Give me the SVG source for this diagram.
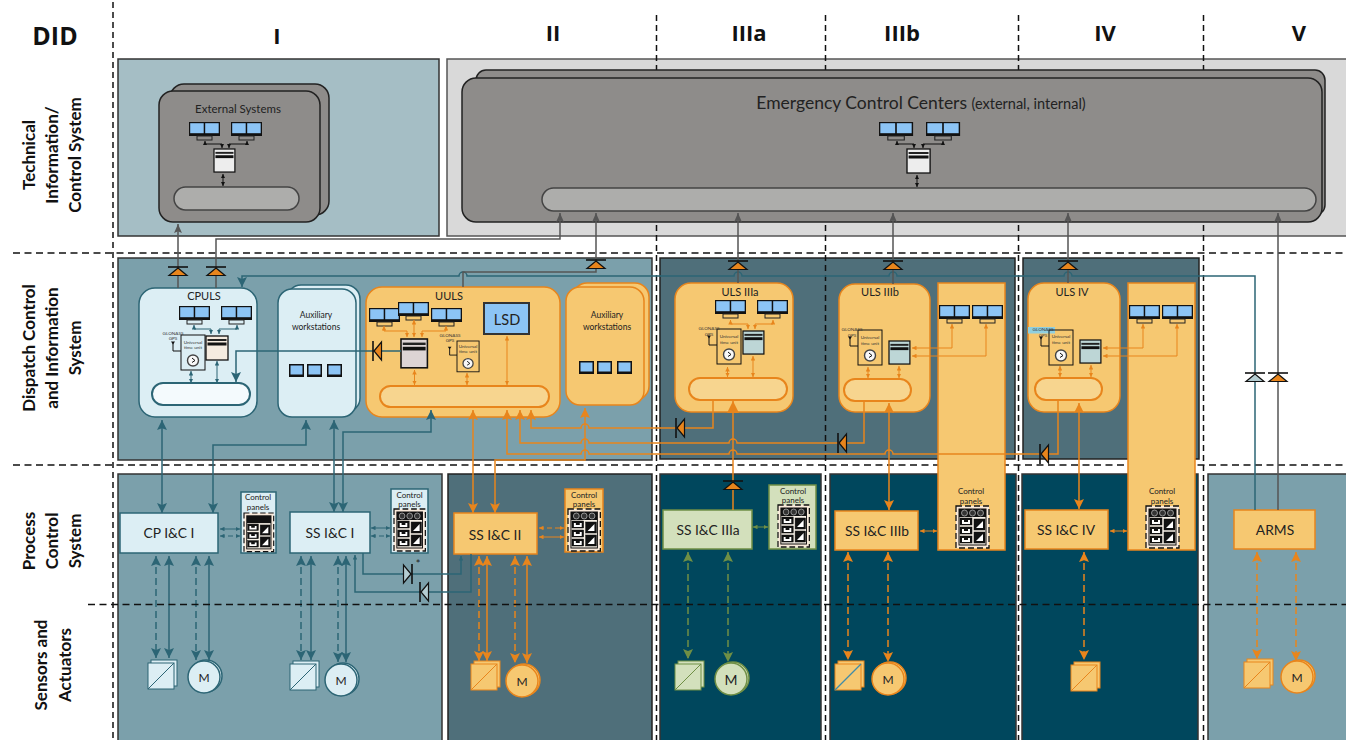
<svg xmlns="http://www.w3.org/2000/svg" xmlns:xlink="http://www.w3.org/1999/xlink" width="1346" height="740" viewBox="0 0 1346 740">
<style>
text{font-family:"Lato","Open Sans","Liberation Sans",sans-serif;fill:#222;text-anchor:middle}
.hd{font-family:"Open Sans","Liberation Sans",sans-serif;font-weight:700;font-size:22px;fill:#111}
.row{font-family:"Lato","Open Sans",sans-serif;font-weight:700;font-size:17px;fill:#111}
.ttl{font-size:11px}
.nm{font-size:13.8px}
.aux{font-size:8.5px}
.cp{font-size:8px}
.tiny{font-size:4.6px;fill:#333}
.dash{fill:none;stroke:#111;stroke-width:1.5;stroke-dasharray:7 4.5}
.vdash{fill:none;stroke:#111;stroke-width:1.5;stroke-dasharray:6 4}
.pl{fill:#7BA0AB;stroke:#333;stroke-width:1.5}
.pd{fill:#4F6F7A;stroke:#222;stroke-width:1.5}
.px{fill:#00475D;stroke:#333;stroke-width:1.5}
.ow{fill:#F6C871;stroke:#E8851C;stroke-width:1.5}
.bw{fill:#DCEEF4;stroke:#2C6575;stroke-width:1.5}
.gw{fill:#D3E0BC;stroke:#6F8F45;stroke-width:1.5}
.kw{fill:#8E8C8A;stroke:#222;stroke-width:1.5}
.ob{fill:#F7D58F;stroke:#E8851C;stroke-width:2}
.bb{fill:#F4FAFD;stroke:#2C6575;stroke-width:2}
.kb{fill:#ADADAB;stroke:#444;stroke-width:1.5}
path.c{fill:none;stroke-width:1.5}
.t{stroke:#2C6575}.o{stroke:#E8851C}.k{stroke:#555}.g{stroke:#6F8F45}.b{stroke:#111}
.d{stroke-dasharray:7 4}
path.s{fill:none;stroke-width:1}
</style>
<defs>
<marker id="at" markerUnits="userSpaceOnUse" markerWidth="10" markerHeight="10" refX="8" refY="4" viewBox="0 0 8 8" orient="auto-start-reverse"><path d="M8,4L0,0L1.5,4L0,8Z" fill="#2C6575"/></marker>
<marker id="ao" markerUnits="userSpaceOnUse" markerWidth="10" markerHeight="10" refX="8" refY="4" viewBox="0 0 8 8" orient="auto-start-reverse"><path d="M8,4L0,0L1.5,4L0,8Z" fill="#E8851C"/></marker>
<marker id="aO" markerUnits="userSpaceOnUse" markerWidth="12" markerHeight="12" refX="10" refY="5" viewBox="0 0 10 10" orient="auto-start-reverse"><path d="M10,5L0,0L0,10Z" fill="#E8851C"/></marker>
<marker id="ak" markerUnits="userSpaceOnUse" markerWidth="9" markerHeight="9" refX="8" refY="4" viewBox="0 0 8 8" orient="auto-start-reverse"><path d="M8,4L0,0.5L1.5,4L0,7.5Z" fill="#555"/></marker>
<marker id="ag" markerUnits="userSpaceOnUse" markerWidth="10" markerHeight="10" refX="8" refY="4" viewBox="0 0 8 8" orient="auto-start-reverse"><path d="M8,4L0,0L1.5,4L0,8Z" fill="#6F8F45"/></marker>
<marker id="st" markerUnits="userSpaceOnUse" markerWidth="4.5" markerHeight="4.5" refX="4" refY="2" viewBox="0 0 4 4" orient="auto-start-reverse"><path d="M4,2L0,0V4Z" fill="#2C6575"/></marker>
<marker id="so" markerUnits="userSpaceOnUse" markerWidth="4.5" markerHeight="4.5" refX="4" refY="2" viewBox="0 0 4 4" orient="auto-start-reverse"><path d="M4,2L0,0V4Z" fill="#E8851C"/></marker>
<marker id="sg" markerUnits="userSpaceOnUse" markerWidth="4.5" markerHeight="4.5" refX="4" refY="2" viewBox="0 0 4 4" orient="auto-start-reverse"><path d="M4,2L0,0V4Z" fill="#6F8F45"/></marker>
<marker id="sb" markerUnits="userSpaceOnUse" markerWidth="4" markerHeight="4" refX="4" refY="2" viewBox="0 0 4 4" orient="auto-start-reverse"><path d="M4,2L0,0V4Z" fill="#111"/></marker>
<g id="dual"><rect width="31" height="14" fill="#111"/><rect x="1.2" y="1.2" width="13.5" height="10" fill="#8CC4F5"/><rect x="16.2" y="1.2" width="13.5" height="10" fill="#8CC4F5"/><rect x="8" y="14" width="15" height="4" fill="none" stroke="#222" stroke-width="1"/></g>
<g id="mon"><rect width="15" height="13" fill="#111"/><rect x="1.5" y="1.5" width="12" height="9" fill="#8CC4F5"/></g>
<g id="srv"><rect width="22" height="24" stroke="#111" stroke-width="1.3"/><rect x="1.5" y="3" width="19" height="2" fill="#222"/><rect x="1.5" y="6.5" width="19" height="3" fill="#111"/></g>
<g id="tu"><rect width="24" height="35" fill="none" stroke="#111" stroke-width="1"/><circle cx="12" cy="25.5" r="5.5" fill="#F8F8F8" stroke="#444" stroke-width="1.4"/><path d="M11,23L14,25.5L11,27.5" fill="none" stroke="#111" stroke-width="1"/><path d="M0,16H-8V8" fill="none" stroke="#111" stroke-width="1"/><path d="M-10,6.5H-6L-8,9.5Z" fill="#111"/></g>
<g id="ctl"><rect width="33" height="42" fill="#F8E9DA" stroke="#111" stroke-width="1.3" stroke-dasharray="6 3"/><rect x="2.5" y="2.5" width="28" height="37" fill="#111"/><rect x="3.5" y="11" width="26" height="27.5" fill="#F8F2E8"/><g fill="#111" stroke="#111" stroke-width="0.5"><rect x="4" y="12" width="12" height="7"/><rect x="4" y="21" width="12" height="7"/><rect x="4" y="30" width="12" height="7"/><rect x="18" y="13" width="11" height="11"/><rect x="18" y="26" width="11" height="11"/></g><g fill="#FFF"><path d="M6,14H8V16H12V14H14V18H6Z"/><path d="M6,23H8V25H12V23H14V27H6Z"/><path d="M6,32H8V34H12V32H14V36H6Z"/><path d="M27,15V22H20Z"/><path d="M27,28V35H20Z"/></g></g>
<g id="knobs"><circle cx="8.5" cy="7" r="3" fill="#333" stroke="#DDD" stroke-width="0.6"/><circle cx="16.5" cy="7" r="3" fill="#333" stroke="#DDD" stroke-width="0.6"/><circle cx="24.5" cy="7" r="3" fill="#333" stroke="#DDD" stroke-width="0.6"/></g>
<g id="diode"><path d="M-10,-4H10" fill="none" stroke="#111" stroke-width="1.6"/><path d="M0,-3L9,4.5H-9Z" stroke="#111" stroke-width="1.2"/></g>
<g id="conv"><rect x="3" y="-3" width="26" height="26"/><rect width="26" height="26"/><path d="M0,26L26,0" fill="none"/></g>
</defs>

<g id="panels">
<rect class="pl" x="118" y="59" width="321" height="177" style="fill:#A5BEC5"/>
<rect x="447" y="59" width="900" height="177" style="fill:#D9D9D9;stroke:#555;stroke-width:1.5"/>
<rect class="pl" x="118" y="258" width="534" height="202"/>
<rect class="pd" x="660" y="258" width="355" height="201"/>
<rect class="pd" x="1023" y="258" width="176" height="201"/>
<rect class="pl" x="118" y="474" width="324" height="267"/>
<rect class="pd" x="448" y="474" width="204" height="267"/>
<rect class="px" x="660" y="474" width="161" height="267"/>
<rect class="px" x="830" y="474" width="186" height="267"/>
<rect class="px" x="1022" y="474" width="176" height="267"/>
<rect class="pl" x="1208" y="474" width="140" height="267"/>
</g>

<g id="grid">
<path class="vdash" d="M113,2V740"/>
<path class="vdash" d="M656.500,15V740M825.500,15V740M1018.500,15V740M1203.500,15V740"/>
<path class="dash" d="M13,253H1346M13,465H1346"/>
</g>

<g id="headers">
<text class="hd" x="55" y="45" style="font-size:25px">DID</text>
<text class="hd" x="277" y="44">I</text>
<text class="hd" x="553" y="41">II</text>
<text class="hd" x="749" y="41">IIIa</text>
<text class="hd" x="902" y="41">IIIb</text>
<text class="hd" x="1105" y="41">IV</text>
<text class="hd" x="1299" y="41">V</text>
<text class="row" transform="translate(35,155) rotate(-90)">Technical</text>
<text class="row" transform="translate(58,155) rotate(-90)">Information/</text>
<text class="row" transform="translate(81,155) rotate(-90)">Control System</text>
<text class="row" transform="translate(35,348) rotate(-90)">Dispatch Control</text>
<text class="row" transform="translate(58,348) rotate(-90)">and Information</text>
<text class="row" transform="translate(81,348) rotate(-90)">System</text>
<text class="row" transform="translate(35,541) rotate(-90)">Process</text>
<text class="row" transform="translate(58,541) rotate(-90)">Control</text>
<text class="row" transform="translate(81,541) rotate(-90)">System</text>
<text class="row" transform="translate(47,665) rotate(-90)">Sensors and</text>
<text class="row" transform="translate(71,665) rotate(-90)">Actuators</text>
</g>

<g id="external-systems">
<rect class="kw" x="170" y="84" width="159" height="131" rx="14"/>
<rect class="kw" x="159" y="91" width="161" height="131" rx="14"/>
<text x="238" y="113" style="font-size:11.5px">External Systems</text>
<use href="#dual" x="189" y="122"/><use href="#dual" x="231" y="122"/>
<use href="#srv" transform="translate(214,149) scale(.95,.96)" fill="#EDEDED"/>
<rect class="kb" x="174" y="187" width="125" height="23" rx="11.500"/>
</g>

<g id="emergency-control-centers">
<rect class="kw" x="476" y="70" width="849" height="145" rx="10"/>
<rect class="kw" x="462" y="78" width="860" height="144" rx="14"/>
<text x="921" y="109" style="font-size:17.5px">Emergency Control Centers <tspan style="font-size:14.500px">(external, internal)</tspan></text>
<use href="#dual" transform="translate(879,122) scale(1.1,1)"/><use href="#dual" transform="translate(926,122) scale(1.1,1)"/>
<use href="#srv" transform="translate(907,149) scale(1.05,1)" fill="#EDEDED"/>
<rect class="kb" x="542" y="188" width="774" height="23" rx="11.500"/>
</g>

<g id="cpuls">
<rect class="bw" x="139" y="288" width="118" height="129" rx="16"/>
<text class="ttl" x="204" y="300">CPULS</text>
<use href="#dual" x="179" y="306"/><use href="#dual" x="221" y="306"/>
<use href="#tu" x="181" y="335"/>
<text class="tiny" x="173" y="335">GLONASS</text><text class="tiny" x="173" y="340">GPS</text>
<text class="tiny" x="193" y="344">Universal</text><text class="tiny" x="193" y="349">time unit</text>
<use href="#srv" x="206" y="336" fill="#F5EBDF"/>
<rect class="bb" x="152" y="383" width="98" height="22" rx="11"/>
</g>

<g id="aux-i">
<rect class="bw" x="287" y="285" width="73" height="127" rx="14"/>
<rect class="bw" x="278" y="289" width="78" height="128" rx="14"/>
<text class="aux" x="316" y="318">Auxiliary</text><text class="aux" x="316" y="330">workstations</text>
<use href="#mon" x="289" y="364"/><use href="#mon" x="307" y="364"/><use href="#mon" x="327" y="364"/>
</g>

<g id="uuls">
<rect class="ow" x="366" y="287" width="194" height="130" rx="16"/>
<text class="ttl" x="449" y="300">UULS</text>
<use href="#dual" x="369" y="308"/><use href="#dual" x="398" y="302"/><use href="#dual" x="431" y="308"/>
<use href="#srv" transform="translate(401,339) scale(1.2,1.2)" fill="#DDD4D4"/>
<use href="#tu" transform="translate(457,341) scale(.92,.88)"/>
<text class="tiny" x="450" y="337">GLONASS</text><text class="tiny" x="450" y="342">GPS</text>
<text class="tiny" x="468" y="348">Universal</text><text class="tiny" x="468" y="353">time unit</text>
<rect x="484" y="303" width="45" height="31" fill="#8CC4F5" stroke="#333" stroke-width="2"/>
<text x="507" y="325" style="font-size:14.500px">LSD</text>
<rect class="ob" x="380" y="386" width="169" height="21" rx="10.500"/>
</g>

<g id="aux-ii">
<rect class="ow" x="573" y="283" width="76" height="117" rx="14"/>
<rect class="ow" x="566" y="287" width="78" height="118" rx="14"/>
<text class="aux" x="607" y="318">Auxiliary</text><text class="aux" x="607" y="330">workstations</text>
<use href="#mon" x="579" y="361"/><use href="#mon" x="597" y="361"/><use href="#mon" x="617" y="361"/>
</g>

<g id="uls-iiia">
<rect class="ow" x="675" y="283" width="118" height="129" rx="16"/>
<text class="ttl" x="740" y="296">ULS IIIa</text>
<use href="#dual" x="715" y="300"/><use href="#dual" x="757" y="300"/>
<use href="#tu" x="717" y="329"/>
<text class="tiny" x="709" y="330">GLONASS</text><text class="tiny" x="709" y="336">GPS</text>
<text class="tiny" x="729" y="338">Universal</text><text class="tiny" x="729" y="344">time unit</text>
<use href="#srv" transform="translate(743,331) scale(.95,.96)" fill="#BDD6D6"/>
<rect class="ob" x="689" y="378" width="98" height="22" rx="11"/>
</g>

<g id="uls-iiib">
<rect class="ow" x="839" y="284" width="91" height="128" rx="16"/>
<text class="ttl" x="880" y="296">ULS IIIb</text>
<use href="#tu" x="858" y="330"/>
<text class="tiny" x="852" y="331">GLONASS</text><text class="tiny" x="852" y="337">GPS</text>
<text class="tiny" x="870" y="339">Universal</text><text class="tiny" x="870" y="345">time unit</text>
<use href="#srv" transform="translate(889,341) scale(.95,.96)" fill="#BDD6D6"/>
<rect class="ob" x="844" y="379" width="67" height="22" rx="11"/>
</g>

<g id="workstations-iiib">
<rect class="ow" x="938" y="283" width="67" height="267"/>
<use href="#dual" x="939" y="305"/><use href="#dual" x="972" y="305"/>
<text class="cp" x="971" y="494">Control</text><text class="cp" x="971" y="504">panels</text>
<use href="#ctl" x="956" y="506"/><use href="#knobs" x="956" y="506"/>
</g>

<g id="uls-iv">
<rect class="ow" x="1028" y="283" width="92" height="129" rx="16"/>
<text class="ttl" x="1072" y="296">ULS IV</text>
<rect x="1028" y="327" width="27" height="6.500" fill="#8FCFE0"/>
<use href="#tu" x="1049" y="330"/>
<text class="tiny" x="1043" y="331">GLONASS</text><text class="tiny" x="1043" y="337">GPS</text>
<text class="tiny" x="1061" y="338">Universal</text><text class="tiny" x="1061" y="344">time unit</text>
<use href="#srv" transform="translate(1080,340) scale(.95,.96)" fill="#BDD6D6"/>
<rect class="ob" x="1035" y="378" width="67" height="22" rx="11"/>
</g>

<g id="workstations-iv">
<rect class="ow" x="1128" y="283" width="67" height="267"/>
<use href="#dual" x="1129" y="305"/><use href="#dual" x="1162" y="305"/>
<text class="cp" x="1162" y="494">Control</text><text class="cp" x="1162" y="504">panels</text>
<use href="#ctl" x="1146" y="506"/><use href="#knobs" x="1146" y="506"/>
</g>

<g id="cp-ic-i"><rect class="bw" x="120" y="513" width="98" height="40"/><text class="nm" x="169" y="538">CP I&amp;C I</text></g>
<g id="panels-cp-i"><rect class="bw" x="241" y="492" width="35" height="61"/><text class="cp" x="258" y="500">Control</text><text class="cp" x="258" y="510">panels</text><use href="#ctl" transform="translate(244,513) scale(.9,.92)"/></g>
<g id="ss-ic-i"><rect class="bw" x="290" y="512" width="80" height="41"/><text class="nm" x="330" y="538">SS I&amp;C I</text></g>
<g id="panels-ss-i"><rect class="bw" x="391" y="489" width="37" height="64"/><text class="cp" x="409.500" y="498">Control</text><text class="cp" x="409.500" y="507">panels</text><use href="#ctl" transform="translate(394,509) scale(.95,1)"/><use href="#knobs" transform="translate(394,509) scale(.95,1)"/></g>
<g id="ss-ic-ii"><rect class="ow" x="454" y="513" width="83" height="41"/><text class="nm" x="495" y="540">SS I&amp;C II</text></g>
<g id="panels-ss-ii"><rect class="ow" x="565" y="489" width="38" height="63"/><text class="cp" x="584" y="498">Control</text><text class="cp" x="584" y="507">panels</text><use href="#ctl" transform="translate(568,509) scale(.98,1)"/><use href="#knobs" transform="translate(568,509) scale(.98,1)"/></g>
<g id="ss-ic-iiia"><rect class="gw" x="663" y="510" width="89" height="39"/><text class="nm" x="708" y="535">SS I&amp;C IIIa</text></g>
<g id="panels-ss-iiia"><rect class="gw" x="769" y="485" width="47" height="64"/><text class="cp" x="793" y="494">Control</text><text class="cp" x="793" y="503">panels</text><use href="#ctl" transform="translate(778,505) scale(.95,1)"/><use href="#knobs" transform="translate(778,505) scale(.95,1)"/></g>
<g id="ss-ic-iiib"><rect class="ow" x="835" y="511" width="83" height="39"/><text class="nm" x="877" y="536">SS I&amp;C IIIb</text></g>
<g id="ss-ic-iv"><rect class="ow" x="1025" y="510" width="83" height="39"/><text class="nm" x="1066" y="535">SS I&amp;C IV</text></g>
<g id="arms"><rect class="ow" x="1234" y="510" width="81" height="39"/><text class="nm" x="1275" y="535">ARMS</text></g>

<g id="sensor-cp-i" fill="#DCEEF4" stroke="#2C6575"><use href="#conv" x="148" y="663"/></g>
<g id="motor-cp-i"><circle class="bw" cx="206" cy="676" r="16"/><circle class="bw" cx="204" cy="677" r="16"/><text x="204" y="682" style="font-size:12px">M</text></g>
<g id="sensor-ss-i" fill="#DCEEF4" stroke="#2C6575"><use href="#conv" x="290" y="664"/></g>
<g id="motor-ss-i"><circle class="bw" cx="343" cy="679" r="16"/><circle class="bw" cx="341" cy="680" r="16"/><text x="341" y="685" style="font-size:12px">M</text></g>
<g id="sensor-ii" fill="#F6C871" stroke="#E8851C"><use href="#conv" x="471" y="664"/></g>
<g id="motor-ii"><circle class="ow" cx="524" cy="680" r="16"/><circle class="ow" cx="522" cy="681" r="16"/><text x="522" y="686" style="font-size:12px">M</text></g>
<g id="sensor-iiia" fill="#D3E0BC" stroke="#6F8F45"><use href="#conv" x="675" y="664"/></g>
<g id="motor-iiia"><circle class="gw" cx="733" cy="678" r="16"/><circle class="gw" cx="731" cy="679" r="16"/><text x="731" y="685" style="font-size:14px">M</text></g>
<g id="sensor-iiib" fill="#F6C871" stroke="#E8851C"><use href="#conv" x="835" y="664"/><path d="M835,690L861,664" stroke="#3F8CA8" stroke-width="1.2"/></g>
<g id="motor-iiib"><circle class="ow" cx="890" cy="678" r="16"/><circle class="ow" cx="888" cy="679" r="16"/><text x="888" y="684" style="font-size:12px">M</text></g>
<g id="sensor-iv" fill="#F6C871" stroke="#E8851C"><use href="#conv" x="1071" y="665"/></g>
<g id="sensor-v" fill="#F6C871" stroke="#E8851C"><use href="#conv" x="1244" y="662"/></g>
<g id="motor-v"><circle class="ow" cx="1299" cy="676" r="16"/><circle class="ow" cx="1297" cy="677" r="16"/><text x="1297" y="682" style="font-size:12px">M</text></g>

<g id="connectors">
<path class="c t" marker-start="url(#at)" d="M242,287V276H459a4,4 0 0 1 8,0H734a4,4 0 0 1 8,0H889a4,4 0 0 1 8,0H1064a4,4 0 0 1 8,0H1255V510"/>
<path class="c k" marker-start="url(#ak)" d="M178,224V288"/>
<path class="c k" marker-start="url(#ak)" d="M560,213V239H216V288"/>
<path class="c k" marker-start="url(#ak)" d="M596,213V272H463V287"/>
<path class="c k" marker-start="url(#ak)" d="M738,213V283"/>
<path class="c k" marker-start="url(#ak)" d="M893,213V284"/>
<path class="c k" marker-start="url(#ak)" d="M1068,213V283"/>
<path class="c k" marker-start="url(#ak)" d="M1278,213V510"/>
<path class="c t" marker-start="url(#at)" marker-end="url(#at)" d="M162,420V513"/>
<path class="c t" marker-start="url(#at)" marker-end="url(#at)" d="M306,420V445H213V513"/>
<path class="c t" marker-start="url(#at)" marker-end="url(#at)" d="M334,420V512"/>
<path class="c t" marker-start="url(#at)" marker-end="url(#at)" d="M431,410V432H343V512"/>
<path class="c t" marker-end="url(#at)" d="M401,351H236V382"/>
<path class="c o" marker-start="url(#ao)" marker-end="url(#ao)" d="M473,410V513"/>
<path class="c o" marker-start="url(#ao)" marker-end="url(#ao)" d="M585,408V460H495V513"/>
<path class="c o" marker-start="url(#ao)" d="M531,410V428H581a4,4 0 0 1 8,0H713V400"/>
<path class="c o" marker-start="url(#ao)" d="M520,410V443H581a4,4 0 0 1 8,0H729a4,4 0 0 1 8,0H864V401"/>
<path class="c o" marker-start="url(#ao)" d="M507,410V454H581a4,4 0 0 1 8,0H729a4,4 0 0 1 8,0H885a4,4 0 0 1 8,0H1058V400"/>
<path class="c o" marker-start="url(#aO)" d="M733,401V510"/>
<path class="c o" marker-start="url(#ao)" marker-end="url(#ao)" d="M889,403V510"/>
<path class="c o" marker-start="url(#ao)" marker-end="url(#ao)" d="M1079,403V509"/>
<path class="c t" d="M363,553V574H461V556" marker-end="url(#st)"/>
<path class="c t" d="M471,554V592H355V555" marker-end="url(#st)"/>
<path class="c t d" marker-start="url(#at)" marker-end="url(#at)" d="M156,556V658"/>
<path class="c t" marker-start="url(#at)" marker-end="url(#at)" d="M169,556V658"/>
<path class="c t d" marker-start="url(#at)" marker-end="url(#at)" d="M196,556V660"/>
<path class="c t" marker-start="url(#at)" marker-end="url(#at)" d="M209,556V660"/>
<path class="c t d" marker-start="url(#at)" marker-end="url(#at)" d="M301,556V660"/>
<path class="c t" marker-start="url(#at)" marker-end="url(#at)" d="M311,556V660"/>
<path class="c t d" marker-start="url(#at)" marker-end="url(#at)" d="M338,556V662"/>
<path class="c t" marker-start="url(#at)" marker-end="url(#at)" d="M346,556V662"/>
<path class="c o d" marker-start="url(#ao)" marker-end="url(#ao)" d="M479,556V661"/>
<path class="c o" marker-start="url(#ao)" marker-end="url(#ao)" d="M487,556V661"/>
<path class="c o d" marker-start="url(#ao)" marker-end="url(#ao)" d="M515,556V663"/>
<path class="c o" marker-start="url(#ao)" marker-end="url(#ao)" d="M527,556V663"/>
<path class="c g d" marker-start="url(#ag)" marker-end="url(#ag)" d="M688,552V659"/>
<path class="c g d" marker-start="url(#ag)" marker-end="url(#ag)" d="M728,552V662"/>
<path class="c o d" marker-start="url(#ao)" marker-end="url(#ao)" d="M848,552V660"/>
<path class="c o d" marker-start="url(#ao)" marker-end="url(#ao)" d="M888,552V662"/>
<path class="c o d" marker-start="url(#ao)" marker-end="url(#ao)" d="M1084,552V660"/>
<path class="c o d" marker-start="url(#ao)" marker-end="url(#ao)" d="M1257,552V659"/>
<path class="c o d" marker-start="url(#ao)" marker-end="url(#ao)" d="M1296,552V661"/>
<g>
<path class="s t" marker-start="url(#st)" marker-end="url(#st)" d="M220,529H240"/>
<path class="s t" stroke-dasharray="5 3" marker-start="url(#st)" marker-end="url(#st)" d="M220,536H240"/>
<path class="s t" marker-start="url(#st)" marker-end="url(#st)" d="M371,528H390"/>
<path class="s t" stroke-dasharray="5 3" marker-start="url(#st)" marker-end="url(#st)" d="M371,536H390"/>
<path class="s o" stroke-dasharray="5 3" marker-start="url(#so)" marker-end="url(#so)" d="M539,528H564"/>
<path class="s o" marker-start="url(#so)" marker-end="url(#so)" d="M539,537H564"/>
<path class="s g" marker-start="url(#sg)" marker-end="url(#sg)" d="M753,527H768"/>
<path class="s o" marker-start="url(#so)" marker-end="url(#so)" d="M920,531H937"/>
<path class="s o" marker-start="url(#so)" marker-end="url(#so)" d="M1110,531H1127"/>
<path class="s t" marker-start="url(#st)" marker-end="url(#st)" d="M194,325V329H211V334"/>
<path class="s t" marker-start="url(#st)" marker-end="url(#st)" d="M237,325V329H219V334"/>
<path class="s t" marker-start="url(#st)" marker-end="url(#st)" d="M191,371V383"/>
<path class="s t" marker-start="url(#st)" marker-end="url(#st)" d="M217,361V383"/>
<path class="s o" marker-start="url(#so)" marker-end="url(#so)" d="M384,326V331H407V337"/>
<path class="s o" marker-start="url(#so)" marker-end="url(#so)" d="M414,320V337"/>
<path class="s o" marker-start="url(#so)" marker-end="url(#so)" d="M446,326V331H422V337"/>
<path class="s o" marker-start="url(#so)" marker-end="url(#so)" d="M414.500,370V385"/>
<path class="s o" marker-start="url(#so)" marker-end="url(#so)" d="M467,373V385"/>
<path class="s o" marker-start="url(#so)" marker-end="url(#so)" d="M507,336V385"/>
<path class="s o" marker-start="url(#so)" marker-end="url(#so)" d="M730.500,320V324H748V329"/>
<path class="s o" marker-start="url(#so)" marker-end="url(#so)" d="M773,320V324H755V329"/>
<path class="s o" marker-start="url(#so)" marker-end="url(#so)" d="M727.500,367V377"/>
<path class="s o" marker-start="url(#so)" marker-end="url(#so)" d="M753,356V377"/>
<path class="s o" marker-start="url(#so)" marker-end="url(#so)" d="M868,367V378"/>
<path class="s o" marker-start="url(#so)" marker-end="url(#so)" d="M899,366V378"/>
<path class="s o" marker-start="url(#so)" marker-end="url(#so)" d="M1060,366V377"/>
<path class="s o" marker-start="url(#so)" marker-end="url(#so)" d="M1091,365V377"/>
<path class="s o" marker-start="url(#so)" marker-end="url(#so)" d="M912,348H952V324"/>
<path class="s o" marker-start="url(#so)" marker-end="url(#so)" d="M912,356H986V324"/>
<path class="s o" marker-start="url(#so)" marker-end="url(#so)" d="M1103,348H1143V324"/>
<path class="s o" marker-start="url(#so)" marker-end="url(#so)" d="M1103,356H1177V324"/>
<path class="s b" marker-start="url(#sb)" marker-end="url(#sb)" d="M205,141V144H222V148"/>
<path class="s b" marker-start="url(#sb)" marker-end="url(#sb)" d="M247,141V144H229V148"/>
<path class="s b" marker-start="url(#sb)" marker-end="url(#sb)" d="M223,174V186"/>
<path class="s b" marker-start="url(#sb)" marker-end="url(#sb)" d="M897,141V144H914V148"/>
<path class="s b" marker-start="url(#sb)" marker-end="url(#sb)" d="M943,141V144H923V148"/>
<path class="s b" marker-start="url(#sb)" marker-end="url(#sb)" d="M917,175V187"/>
</g>
<use href="#diode" transform="translate(178,271)" fill="#E8851C"/>
<use href="#diode" transform="translate(216,271)" fill="#E8851C"/>
<use href="#diode" transform="translate(596,264)" fill="#E8851C"/>
<use href="#diode" transform="translate(738,265)" fill="#E8851C"/>
<use href="#diode" transform="translate(893,265)" fill="#E8851C"/>
<use href="#diode" transform="translate(1068,265)" fill="#E8851C"/>
<use href="#diode" transform="translate(1255,377)" fill="#B4CDD2"/>
<use href="#diode" transform="translate(1278,377)" fill="#E8851C"/>
<use href="#diode" transform="translate(377,351) rotate(-90)" fill="#E8851C"/>
<use href="#diode" transform="translate(680,428) rotate(-90)" fill="#E8851C"/>
<use href="#diode" transform="translate(842,443) rotate(-90)" fill="#E8851C"/>
<use href="#diode" transform="translate(1044,454) rotate(-90)" fill="#E8851C"/>
<use href="#diode" transform="translate(733,485)" fill="#E8851C"/>
<use href="#diode" transform="translate(408,574) rotate(90)" fill="#B4CDD2"/>
<use href="#diode" transform="translate(424,592) rotate(-90)" fill="#B4CDD2"/>
<text x="418" y="568" style="font-size:11px">*</text>
</g>
<g id="grid-front"><path class="dash" d="M88,604.500H1346"/></g>
</svg>
